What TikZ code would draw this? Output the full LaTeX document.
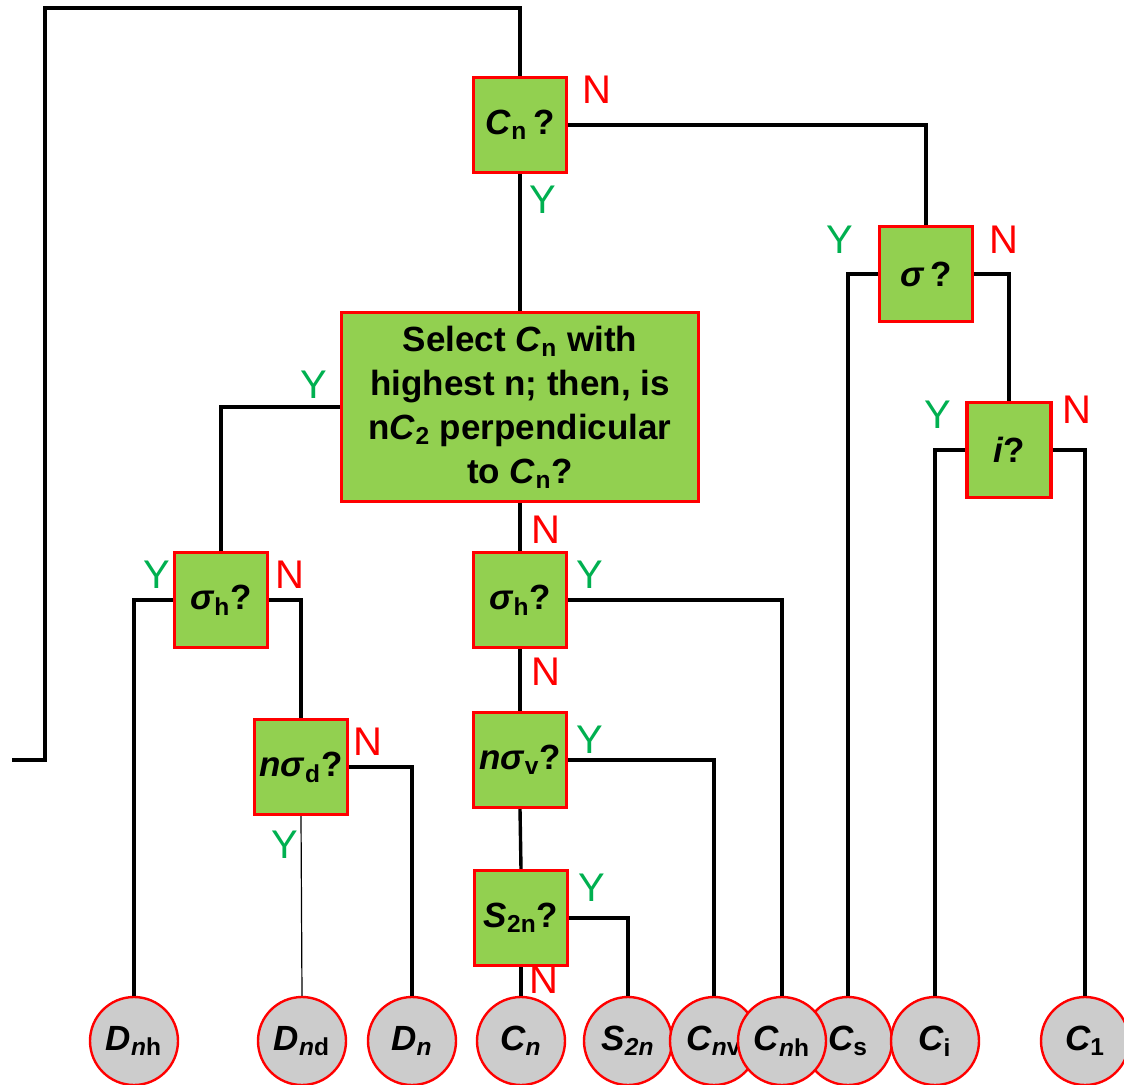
\documentclass[tikz,border=0pt]{standalone}
\usepackage{fontspec}
\setmainfont{Liberation Sans}
\usepackage{tikz}
\definecolor{boxgreen}{HTML}{92D050}
\definecolor{edgered}{HTML}{FF0000}
\definecolor{leafgray}{HTML}{CCCCCC}
\definecolor{yesgreen}{HTML}{00B050}
\tikzset{
  wire/.style={draw=black, line width=1.7pt},
  thinwire/.style={draw=black, line width=0.6pt},
  question/.style={draw=edgered, fill=boxgreen, line width=1.6pt, inner sep=0pt,
    minimum width=46.5pt, minimum height=47.5pt, align=center,
    font=\fontsize{17.5}{22}\selectfont\bfseries},
  bigquestion/.style={question, minimum width=178.5pt, minimum height=94.5pt},
  pointgroup/.style={circle, draw=edgered, fill=leafgray, line width=1.2pt,
    minimum size=44pt, inner sep=0pt,
    font=\fontsize{17.5}{22}\selectfont\bfseries\itshape},
  yes/.style={text=yesgreen, inner sep=0pt, font=\fontsize{20}{24}\selectfont},
  no/.style={text=edgered, inner sep=0pt, font=\fontsize{20}{24}\selectfont}
}
\newcommand{\ital}[1]{\textit{#1}}
\newcommand{\lowidx}[1]{\textsubscript{#1}}

\begin{document}
\begin{tikzpicture}[x=0.5pt,y=-0.5pt]
\useasboundingbox (0,0) rectangle (1124,1085);

% questions
\node[question] (cnq) at (520,125) {\ital{C}\lowidx{n}\,?};
\node[question] (sigq) at (926,274) {\ital{σ}\,?};
\node[question, minimum width=42pt] (iq) at (1009,450) {\ital{i}?};
\node[bigquestion] (bigq) at (520,407)
  {Select \ital{C}\lowidx{n} with\\highest n; then, is\\n\ital{C}\lowidx{2} perpendicular\\to \ital{C}\lowidx{n}?};
\node[question] (sighl) at (221,600) {\ital{σ}\lowidx{h}?};
\node[question] (nsdq) at (301,767) {\ital{nσ}\lowidx{d}?};
\node[question] (sighm) at (520,600) {\ital{σ}\lowidx{h}?};
\node[question] (nsvq) at (520,760) {\ital{nσ}\lowidx{v}?};
\node[question] (s2q) at (521,918) {\ital{S}\lowidx{2n}?};

% point groups
\foreach \x/\name/\lab in {134/dnh/{D\lowidx{\ital{n}\upshape h}},302/dnd/{D\lowidx{\ital{n}\upshape d}},412/dn/{D\lowidx{\ital{n}}},521/cn/{C\lowidx{\ital{n}}},628/s2n/{S\lowidx{2\ital{n}}},714/cnv/{C\lowidx{\ital{n}\upshape v}},848/cs/{C\lowidx{\upshape s}},935/ci/{C\lowidx{\upshape i}},1085/c1/{C\lowidx{\upshape 1}},782/cnh/{C\lowidx{\ital{n}\upshape h}}}
  \node[pointgroup] (\name) at (\x,1041) {\lab};

% connectors
\coordinate (looptop) at (45,8);
\coordinate (loopend) at (12,760);
\draw[wire] (cnq.north) |- (looptop) -- (looptop |- loopend) -- (loopend);
\draw[wire] (cnq.east) -| (sigq.north);
\draw[wire] (cnq.south) -- (bigq.north);
\draw[wire] (sigq.west) -| (cs.north);
\draw[wire] (sigq.east) -| (iq.north);
\draw[wire] (iq.west) -| (ci.north);
\draw[wire] (iq.east) -| (c1.north);
\draw[wire] (bigq.west) -| (sighl.north);
\draw[wire] (bigq.south) -- (sighm.north);
\draw[wire] (sighl.west) -| (dnh.north);
\draw[wire] (sighl.east) -| (nsdq.north);
\draw[thinwire] (nsdq.south) -- (dnd.north);
\draw[wire] (nsdq.east) -| (dn.north);
\draw[wire] (sighm.east) -| (cnh.north);
\draw[wire] (sighm.south) -- (nsvq.north);
\draw[wire] (nsvq.east) -| (cnv.north);
\draw[wire] (nsvq.south) -- (s2q.north);
\draw[wire] (s2q.east) -| (s2n.north);
\draw[wire] (s2q.south) -- (cn.north);

% Y / N labels
\node[no] (n1) at (597,90) {N};
\node[yes] (y1) at (543,200) {Y};
\node[yes] (y2) at (840,240) {Y};
\node[no] (n2) at (1004,240) {N};
\node[yes] (y3) at (938,415) {Y};
\node[no] (n3) at (1077,410) {N};
\node[yes] (y4) at (314,385) {Y};
\node[yes] (y5) at (157,575) {Y};
\node[no] (n4) at (290,575) {N};
\node[no] (n5) at (368,742) {N};
\node[yes] (y6) at (285,845) {Y};
\node[no] (n6) at (546,530) {N};
\node[yes] (y7) at (590,575) {Y};
\node[no] (n7) at (546,672) {N};
\node[yes] (y8) at (590,740) {Y};
\node[yes] (y9) at (592,888) {Y};
\node[no] (n8) at (544,980) {N};
\end{tikzpicture}
\end{document}
